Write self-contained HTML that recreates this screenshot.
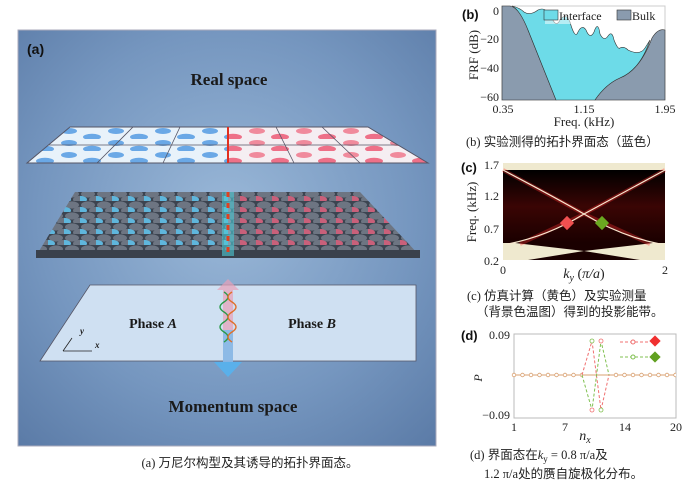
<!DOCTYPE html>
<html><head><meta charset="utf-8"><style>
body{margin:0;background:#fff;width:696px;height:490px;overflow:hidden}
svg{display:block}
text{font-family:"Liberation Serif","Noto Serif CJK SC",serif}
.cj{font-family:"Liberation Serif","Noto Sans CJK SC",sans-serif;font-size:12.5px;fill:#222}
</style></head><body>
<svg width="696" height="490" viewBox="0 0 696 490" xmlns="http://www.w3.org/2000/svg">
<defs>
<radialGradient id="bg" cx="0.5" cy="0.45" r="0.75">
<stop offset="0" stop-color="#9ab8d8"/><stop offset="0.6" stop-color="#7596bf"/><stop offset="1" stop-color="#5a7aa6"/></radialGradient>
<pattern id="dotsB" width="47" height="12" patternUnits="userSpaceOnUse" x="10" y="127">
<ellipse cx="12" cy="4" rx="8" ry="3" fill="#6aa8e6"/><ellipse cx="35" cy="10" rx="9" ry="3.2" fill="#6aa8e6"/></pattern>
<pattern id="dotsR" width="47" height="12" patternUnits="userSpaceOnUse" x="10" y="127">
<ellipse cx="12" cy="4" rx="8" ry="3" fill="#f08a9c"/><ellipse cx="35" cy="10" rx="9" ry="3.2" fill="#ee7088"/></pattern>
<pattern id="latA" width="16" height="11" patternUnits="userSpaceOnUse" x="0" y="190">
<rect width="16" height="11" fill="#3c4450"/>
<ellipse cx="8" cy="4" rx="7" ry="3.6" fill="#6d7582"/><ellipse cx="0" cy="9.5" rx="7" ry="3.6" fill="#5fb6dc"/><ellipse cx="16" cy="9.5" rx="7" ry="3.6" fill="#6d7582"/></pattern>
<pattern id="latB" width="16" height="11" patternUnits="userSpaceOnUse" x="0" y="190">
<rect width="16" height="11" fill="#3c4450"/>
<ellipse cx="8" cy="4" rx="7" ry="3.6" fill="#6d7582"/><ellipse cx="0" cy="9.5" rx="7" ry="3.6" fill="#c9607a"/><ellipse cx="16" cy="9.5" rx="7" ry="3.6" fill="#6d7582"/></pattern>
<linearGradient id="hm" x1="0" y1="0" x2="0" y2="1"><stop offset="0" stop-color="#000"/><stop offset="0.5" stop-color="#3a0504"/><stop offset="1" stop-color="#1a0000"/></linearGradient>
<pattern id="mk" width="8.5" height="10" patternUnits="userSpaceOnUse" x="510" y="370">
<circle cx="4" cy="5" r="1.8" fill="#fff" stroke="#d9a070" stroke-width="0.8"/></pattern>
</defs>
<!-- panel a -->
<rect x="18" y="30" width="418" height="416" fill="url(#bg)" stroke="#aab" stroke-width="1"/>
<text x="27" y="54" font-weight="bold" font-size="14" fill="#111" style="font-family:'Liberation Sans',sans-serif">(a)</text>
<text x="229" y="85" text-anchor="middle" font-weight="bold" font-size="17" fill="#1a1a1a">Real space</text>
<polygon points="70,127 228,127 228,163 27,163" fill="#e8f2fa"/>
<polygon points="70,127 228,127 228,163 27,163" fill="url(#dotsB)"/>
<polygon points="228,127 368,127 428,163 228,163" fill="#f5eef2"/>
<polygon points="228,127 368,127 428,163 228,163" fill="url(#dotsR)"/>
<polygon points="70,127 368,127 428,163 27,163" fill="none" stroke="#556" stroke-width="1"/>
<path d="M49,145 H398 M133,127 L97,163 M180,127 L163,163 M276,127 L294,163 M322,127 L360,163" stroke="#556" stroke-width="0.8" fill="none"/>
<line x1="228" y1="127" x2="228" y2="163" stroke="#e03020" stroke-width="2"/>
<polygon points="75,192 228,192 228,256 36,256" fill="url(#latA)"/>
<polygon points="228,192 360,192 420,256 228,256" fill="url(#latB)"/>
<polygon points="36,250 420,250 420,258 36,258" fill="#3a414c"/>
<rect x="222" y="192" width="12" height="64" fill="#4cc9d6" opacity="0.6"/>
<line x1="228" y1="192" x2="228" y2="252" stroke="#e04020" stroke-width="3" stroke-dasharray="5,6"/>
<polygon points="90,285 416,285 416,361 40,361" fill="#cfe0f2" stroke="#556" stroke-width="0.8"/>
<polygon points="217,290 228,279 239,290 233,290 233,362 223,362 223,290" fill="#e8a0b8" opacity="0.7"/>
<polygon points="214,362 242,362 228,377" fill="#5ab0ea"/>
<rect x="223" y="330" width="10" height="32" fill="#78bbee" opacity="0.8"/>
<path d="M224,292 q8,5 0,10 q-8,5 0,10 q8,5 0,10 q-8,5 0,10 q8,5 0,10" stroke="#2a9a4a" stroke-width="1.4" fill="none"/>
<path d="M232,292 q-8,5 0,10 q8,5 0,10 q-8,5 0,10 q8,5 0,10 q-8,5 0,10" stroke="#e0702a" stroke-width="1.4" fill="none"/>
<text x="153" y="328" text-anchor="middle" font-weight="bold" font-size="14" fill="#1a1a1a">Phase <tspan font-style="italic">A</tspan></text>
<text x="312" y="328" text-anchor="middle" font-weight="bold" font-size="14" fill="#1a1a1a">Phase <tspan font-style="italic">B</tspan></text>
<path d="M63,351 H92 M63,351 L72,338" stroke="#222" stroke-width="0.8" fill="none"/>
<text x="80" y="334" font-size="9" font-style="italic" font-weight="bold" fill="#222">y</text>
<text x="95" y="348" font-size="9" font-style="italic" font-weight="bold" fill="#222">x</text>
<text x="233" y="412" text-anchor="middle" font-weight="bold" font-size="17" fill="#1a1a1a">Momentum space</text>
<text x="250" y="467" text-anchor="middle" class="cj">(a) 万尼尔构型及其诱导的拓扑界面态。</text>

<!-- panel b -->
<rect x="502" y="6" width="163" height="94" fill="#fff" stroke="#ccc"/>
<path d="M502,6 L510,6 Q520,8 528,30 L556,100 L502,100Z" fill="#8a9bae" stroke="#333" stroke-width="0.6"/>
<path d="M512,6 Q520,8 524,12 Q530,16 538,10 Q546,6 552,18 Q556,28 560,20 Q566,12 570,22 Q575,40 578,32 Q582,24 586,30 Q590,40 594,32 Q598,20 600,34 Q604,42 608,36 Q612,30 614,40 Q618,50 620,48 Q624,46 628,50 Q640,56 645,48 L650,40 Q640,70 620,78 Q606,84 595,100 L556,100 L528,30 Q520,10 512,6Z" fill="#6ddbe8" stroke="#333" stroke-width="0.6"/>
<path d="M595,100 Q606,84 620,78 Q640,70 652,38 Q658,28 665,30 L665,100Z" fill="#8a9bae" stroke="#333" stroke-width="0.6"/>
<rect x="545" y="8" width="118" height="16" fill="#fff" opacity="0.5"/>
<rect x="544" y="10" width="14" height="10" fill="#6ddbe8" stroke="#333" stroke-width="0.6"/>
<text x="559" y="20" font-size="12" fill="#222">Interface</text>
<rect x="617" y="10" width="14" height="10" fill="#8a9bae" stroke="#333" stroke-width="0.6"/>
<text x="632" y="20" font-size="12" fill="#222">Bulk</text>
<text x="462" y="19" font-weight="bold" font-size="13" fill="#111" style="font-family:'Liberation Sans',sans-serif">(b)</text>
<g font-size="12" fill="#222" text-anchor="end"><text x="499" y="15">0</text><text x="499" y="43">−20</text><text x="499" y="72">−40</text><text x="499" y="101">−60</text></g>
<text transform="translate(478,55) rotate(-90)" text-anchor="middle" font-size="13" fill="#222">FRF (dB)</text>
<g font-size="12" fill="#222" text-anchor="middle"><text x="503" y="113">0.35</text><text x="584" y="113">1.15</text><text x="665" y="113">1.95</text></g>
<text x="584" y="126" text-anchor="middle" font-size="13" fill="#222">Freq. (kHz)</text>
<text x="466" y="146" class="cj">(b) 实验测得的拓扑界面态（蓝色）</text>

<!-- panel c -->
<rect x="503" y="163" width="162" height="97" fill="#efe9cf"/>
<rect x="503" y="170" width="162" height="73" fill="url(#hm)"/>
<polygon points="515,243 653,243 584,251" fill="#1a0000"/>
<polygon points="528,260 640,260 584,251" fill="#1a0000"/>
<path d="M503,170 L584,214 L650,244 M665,170 L584,214 L520,244" stroke="#ff3030" stroke-width="4" opacity="0.35" fill="none"/>
<path d="M503,170 Q560,200 584,214 Q620,236 660,244 M665,170 Q610,200 584,214 Q548,236 508,244" stroke="#f8e8d0" stroke-width="1.2" fill="none"/>
<rect x="562" y="218" width="10" height="10" fill="#f05050" transform="rotate(45 567 223)"/>
<rect x="597" y="218" width="10" height="10" fill="#6aa820" transform="rotate(45 602 223)"/>
<text x="461" y="172" font-weight="bold" font-size="13" fill="#111" style="font-family:'Liberation Sans',sans-serif">(c)</text>
<g font-size="12" fill="#222" text-anchor="end"><text x="499" y="169">1.7</text><text x="499" y="200">1.2</text><text x="499" y="233">0.7</text><text x="499" y="265">0.2</text></g>
<text transform="translate(476,212) rotate(-90)" text-anchor="middle" font-size="13" fill="#222">Freq. (kHz)</text>
<text x="503" y="274" text-anchor="middle" font-size="12" fill="#222">0</text>
<text x="665" y="274" text-anchor="middle" font-size="12" fill="#222">2</text>
<text x="584" y="278" text-anchor="middle" font-size="14" font-style="italic" fill="#222">k<tspan font-size="10" dy="3">y</tspan><tspan dy="-3" font-style="normal"> (</tspan>π/a<tspan font-style="normal">)</tspan></text>
<text x="467" y="300" class="cj">(c) 仿真计算（黄色）及实验测量</text>
<text x="476" y="316" class="cj">（背景色温图）得到的投影能带。</text>

<!-- panel d -->
<rect x="514" y="334" width="162" height="84" fill="#fff" stroke="#bbb"/>
<line x1="514" y1="375" x2="676" y2="375" stroke="#d9a070" stroke-width="1"/>
<rect x="510" y="370" width="72" height="10" fill="url(#mk)"/>
<rect x="612" y="370" width="64" height="10" fill="url(#mk)"/>
<path d="M582,375 L592,341 L601,410 L609,375" stroke="#f07070" stroke-width="1" stroke-dasharray="3,2" fill="none"/>
<path d="M582,375 L592,410 L601,341 L609,375" stroke="#80c050" stroke-width="1" stroke-dasharray="3,2" fill="none"/>
<g fill="#fff" stroke-width="0.8"><circle cx="592" cy="341" r="2" stroke="#80c050"/><circle cx="601" cy="341" r="2" stroke="#f07070"/><circle cx="592" cy="410" r="2" stroke="#f07070"/><circle cx="601" cy="410" r="2" stroke="#80c050"/></g>
<line x1="620" y1="342" x2="648" y2="342" stroke="#f07070" stroke-dasharray="3,2"/>
<line x1="620" y1="357" x2="648" y2="357" stroke="#80c050" stroke-dasharray="3,2"/>
<circle cx="633" cy="342" r="2" fill="#fff" stroke="#f07070"/>
<circle cx="633" cy="357" r="2" fill="#fff" stroke="#80c050"/>
<rect x="651" y="337" width="8" height="8" fill="#f03030" transform="rotate(45 655 341)"/>
<rect x="651" y="353" width="8" height="8" fill="#60a020" transform="rotate(45 655 357)"/>
<text x="461" y="340" font-weight="bold" font-size="13" fill="#111" style="font-family:'Liberation Sans',sans-serif">(d)</text>
<g font-size="12" fill="#222" text-anchor="end"><text x="510" y="339">0.09</text><text x="510" y="419">−0.09</text></g>
<text transform="translate(482,378) rotate(-90)" text-anchor="middle" font-size="12" font-style="italic" fill="#222">P</text>
<g font-size="12" fill="#222" text-anchor="middle"><text x="514" y="431">1</text><text x="565" y="431">7</text><text x="625" y="431">14</text><text x="676" y="431">20</text></g>
<text x="585" y="440" text-anchor="middle" font-size="14" font-style="italic" fill="#222">n<tspan font-size="10" dy="3">x</tspan></text>
<text x="470" y="459" class="cj">(d) 界面态在<tspan font-style="italic">k</tspan><tspan font-size="9" dy="3">y</tspan><tspan dy="-3"> = 0.8 π/a及</tspan></text>
<text x="484" y="478" class="cj">1.2 π/a处的赝自旋极化分布。</text>
</svg>
</body></html>
